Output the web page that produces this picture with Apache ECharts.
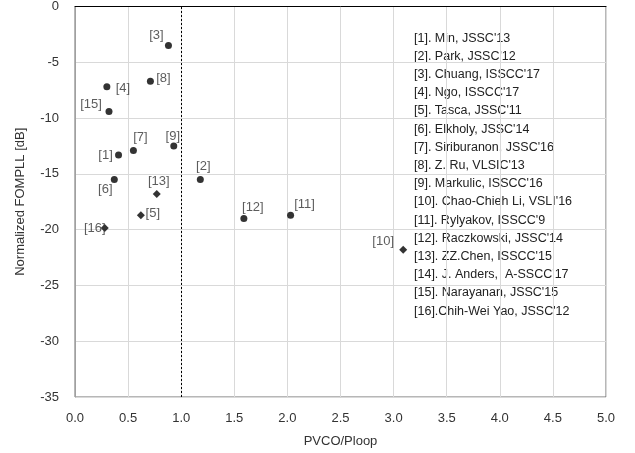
<!DOCTYPE html>
<html>
<head>
<meta charset="utf-8">
<script src="https://cdn.jsdelivr.net/npm/echarts@6/dist/echarts.min.js"></script>
<style>
html,body{margin:0;padding:0;background:#fff;}
#chart{width:635px;height:453px;}
</style>
</head>
<body>
<div id="chart"></div>
<script>
// ---- Data ----
const refLabels = ['[1]','[2]','[3]','[4]','[5]','[6]','[7]','[8]','[9]','[10]','[11]','[12]','[13]','[15]','[16]'];
const pvcoRatio = [0.41, 1.18, 0.88, 0.30, 0.62, 0.37, 0.55, 0.71, 0.93, 3.09, 2.03, 1.59, 0.77, 0.32, 0.28];
const fomValues = [-13.3, -15.5, -3.5, -7.2, -18.7, -15.5, -12.9, -6.7, -12.5, -21.8, -18.7, -19.0, -16.8, -9.4, -19.85];
const referenceList = [
  "[1]. Min, JSSC'13",
  "[2]. Park, JSSC'12",
  "[3]. Chuang, ISSCC'17",
  "[4]. Ngo, ISSCC'17",
  "[5]. Tasca, JSSC'11",
  "[6]. Elkholy, JSSC'14",
  "[7]. Siriburanon, JSSC'16",
  "[8]. Z. Ru, VLSIC'13",
  "[9]. Markulic, ISSCC'16",
  "[10]. Chao-Chieh Li, VSLI'16",
  "[11]. Rylyakov, ISSCC'9",
  "[12]. Raczkowski, JSSC'14",
  "[13]. ZZ.Chen, ISSCC'15",
  "[14]. J. Anders,  A-SSCC'17",
  "[15]. Narayanan, JSSC'15",
  "[16].Chih-Wei Yao, JSSC'12"
];
const xTicks = {min: 0, max: 5, step: 0.5};
const yTicks = {min: -35, max: 0, step: 5};
const refLine = 1.0;

// ---- Styles (not data) ----
const diamondRefs = ['[5]','[13]','[16]','[10]'];
const labelOffsets = {
  '[1]': [-13, 1], '[2]': [3, -13], '[3]': [-12, -10], '[4]': [16, 2],
  '[5]': [12, -2], '[6]': [-9, 10], '[7]': [7, -13], '[8]': [13, -3],
  '[9]': [-1, -10], '[10]': [-20, -8], '[11]': [14, -11], '[12]': [9, -11],
  '[13]': [2, -13], '[15]': [-18, -7], '[16]': [-10, 0]
};
const FONT = 'Liberation Sans';

const points = refLabels.map((r, i) => ({
  value: [pvcoRatio[i], fomValues[i]],
  name: r,
  symbol: diamondRefs.includes(r) ? 'diamond' : 'circle',
  symbolSize: diamondRefs.includes(r) ? 8 : 7,
  label: {offset: labelOffsets[r]}
}));

const chart = echarts.init(document.getElementById('chart'));
chart.setOption({
  animation: false,
  grid: {left: 75, right: 29, top: 5, bottom: 56, show: true, borderColor: '#6e6e6e', borderWidth: 1},
  xAxis: {
    type: 'value', min: xTicks.min, max: xTicks.max, interval: xTicks.step,
    name: 'PVCO/Ploop', nameLocation: 'middle', nameGap: 38,
    nameTextStyle: {fontFamily: FONT, fontSize: 13, color: '#333'},
    axisLine: {show: true, lineStyle: {color: '#000', width: 1}},
    axisTick: {show: false},
    axisLabel: {fontFamily: FONT, fontSize: 13, color: '#333', margin: 15, formatter: v => v.toFixed(1)},
    splitLine: {show: true, lineStyle: {color: '#d9d9d9', width: 1}}
  },
  yAxis: {
    type: 'value', min: yTicks.min, max: yTicks.max, interval: yTicks.step,
    name: 'Normalized FOMPLL [dB]', nameLocation: 'middle', nameGap: 48, nameRotate: 90,
    nameTextStyle: {fontFamily: FONT, fontSize: 13, color: '#333'},
    axisLine: {show: true, lineStyle: {color: '#a0a0a0', width: 1}},
    axisTick: {show: false},
    axisLabel: {fontFamily: FONT, fontSize: 13, color: '#333', margin: 16},
    splitLine: {show: true, lineStyle: {color: '#d9d9d9', width: 1}}
  },
  graphic: [{
    type: 'text', left: 414, top: 29,
    style: {
      text: referenceList.join('\n'),
      fontFamily: FONT, fontSize: 12.5, lineHeight: 18.2, fill: '#222'
    }
  }],
  series: [{
    type: 'scatter',
    data: points,
    itemStyle: {color: '#000'},
    label: {
      show: true, position: 'inside', formatter: p => p.name,
      fontFamily: FONT, fontSize: 13, color: '#333'
    },
    markLine: {
      silent: true, symbol: 'none',
      label: {show: false},
      lineStyle: {color: '#000', type: [2, 2], width: 1},
      data: [{xAxis: refLine}]
    }
  }]
});
</script>
</body>
</html>
